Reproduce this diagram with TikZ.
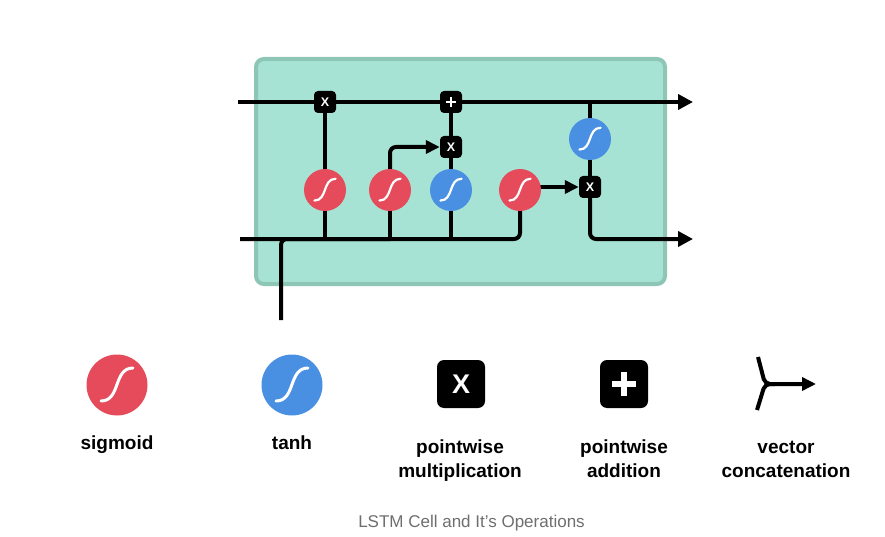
\documentclass[tikz,border=0pt]{standalone}
\usepackage{fontspec}
\setmainfont{Liberation Sans}
\usetikzlibrary{arrows.meta}
\pgfdeclarelayer{back}
\pgfdeclarelayer{mid}
\pgfsetlayers{back,mid,main}
\definecolor{cellfill}{HTML}{A6E3D4}
\definecolor{celledge}{HTML}{8EC6B5}
\definecolor{sigred}{HTML}{E54B5B}
\definecolor{tanhblue}{HTML}{4A90E2}
\definecolor{capgray}{HTML}{6E6E6E}
\tikzset{
  wire/.style={line width=4pt, rounded corners=6pt},
  arr/.style={-{Triangle[length=14pt,width=13pt]}},
  outarr/.style={-{Triangle[length=15pt,width=15pt]}},
  gate/.style={circle, minimum size=42pt, inner sep=0pt, fill=#1},
  opbox/.style={rectangle, rounded corners=4pt, minimum size=22pt, inner sep=0pt, fill=black, text=white, font=\fontsize{12.5}{12.5}\selectfont\bfseries},
  bigbox/.style={opbox, minimum size=48pt, rounded corners=7pt, font=\fontsize{27}{27}\selectfont\bfseries},
  lbl/.style={anchor=base, inner sep=0pt, font=\fontsize{19}{23}\selectfont\bfseries},
  scurve/.pic={\draw[white, line width=\pgfkeysvalueof{/tikz/sw}, line cap=round] (-16,16) .. controls (4,16) and (-4,-17) .. (16,-17);},
  sw/.initial=3pt
}
\begin{document}
\begin{tikzpicture}[x=1pt,y=-1pt]
\useasboundingbox (0,0) rectangle (885,537);
% cell box
\begin{pgfonlayer}{back}
\node[draw=celledge, fill=cellfill, line width=4pt, rounded corners=8pt, minimum width=409pt, minimum height=225pt, inner sep=0pt] (cell) at (460.5,171.5) {};
\end{pgfonlayer}
% operators and gates
\node[opbox] (x1) at (325,102) {X};
\node[opbox] (plus) at (451,102) {};
\draw[white, line width=2.5pt] ([xshift=-5pt]plus.center) -- ([xshift=5pt]plus.center);
\draw[white, line width=2.5pt] ([yshift=-5pt]plus.center) -- ([yshift=5pt]plus.center);
\node[opbox] (x2) at (451,147) {X};
\node[opbox] (x3) at (590,187) {X};
\node[gate=sigred] (s1) at (325,190) {};
\node[gate=sigred] (s2) at (390,190) {};
\node[gate=tanhblue] (t1) at (451,190) {};
\node[gate=sigred] (s4) at (520,190) {};
\node[gate=tanhblue] (t2) at (590,139) {};
\foreach \g in {s1,s2,t1,s4,t2} {\pic[scale=0.66, sw=2.2pt] at (\g) {scurve};}
% coordinates
\coordinate (cin) at (238,102);
\coordinate (cout) at (693,102);
\coordinate (hin) at (240,239);
\coordinate (hout) at (693,239);
\coordinate (xin) at (281,320);
% wires
\begin{pgfonlayer}{mid}
\draw[wire, outarr] (cin) -- (cout);
\draw[wire] (hin) -| (s4.center);
\draw[wire] (xin) |- (s2.center |- hin);
\draw[wire] (x1) -- (s1.center |- hin);
\draw[wire] (s2) -- (s2.center |- hin);
\draw[wire] (plus) -- (t1.center |- hin);
\draw[wire, arr] (s2) |- (x2.west);
\draw[wire, arr] (s4.center |- x3) -- (x3.west);
\draw[wire] (t2.center |- cin) -- (x3);
\draw[wire, outarr] (x3) |- (hout);
\end{pgfonlayer}
% legend
\node[gate=sigred, minimum size=61pt] (ls) at (117,385) {};
\pic[sw=3pt] at (ls) {scurve};
\node[gate=tanhblue, minimum size=61pt] (lt) at (292,385) {};
\pic[sw=3pt] at (lt) {scurve};
\node[bigbox] (lx) at (461,384) {X};
\node[bigbox] (lp) at (624,384) {};
\draw[white, line width=6pt] ([xshift=-12pt]lp.center) -- ([xshift=12pt]lp.center);
\draw[white, line width=6pt] ([yshift=-12pt]lp.center) -- ([yshift=12pt]lp.center);
\coordinate (ca) at (758,357);
\coordinate (cb) at (757,410);
\coordinate (cj) at (765,384);
\coordinate (ctip) at (816,384);
\draw[line width=4pt, rounded corners=5pt, -{Triangle[length=14pt,width=13pt]}] (ca) -- (cj) -- (ctip);
\draw[line width=4pt, rounded corners=5pt] (cb) -- (cj) -- ++(10,0);
% labels
\node[lbl] (tsig) at (117,449) {sigmoid};
\node[lbl] (ttanh) at (292,449) {tanh};
\node[lbl] (tpm1) at (460,453) {pointwise};
\node[lbl] (tpm2) at (460,477) {multiplication};
\node[lbl] (tpa1) at (624,453) {pointwise};
\node[lbl] (tpa2) at (624,477) {addition};
\node[lbl] (tvc1) at (786,453) {vector};
\node[lbl] (tvc2) at (786,477) {concatenation};
\node[anchor=base, inner sep=0pt, font=\fontsize{17}{20}\selectfont, text=capgray] (cap) at (471.5,527) {LSTM Cell and It’s Operations};
\end{tikzpicture}
\end{document}
